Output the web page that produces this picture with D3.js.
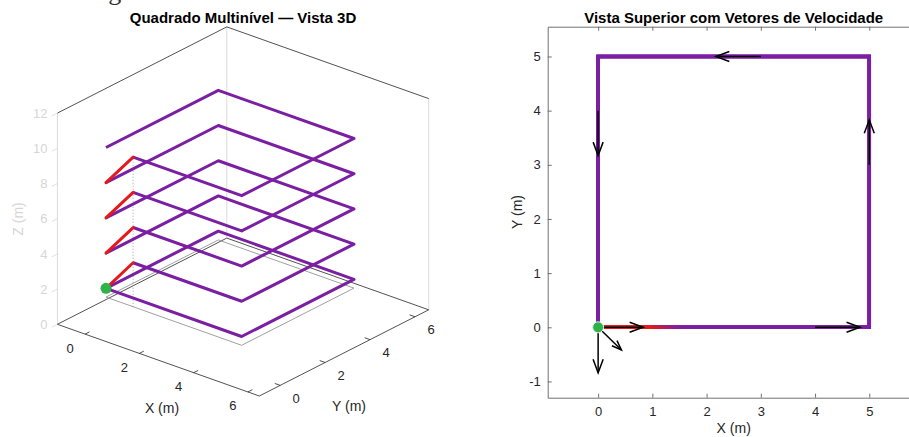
<!DOCTYPE html>
<html>
<head>
<meta charset="utf-8">
<script src="https://cdn.jsdelivr.net/npm/d3@7"></script>
<style>
  body { margin: 0; background: #fff; }
  svg { display: block; }
  text { font-family: "Liberation Sans", Arial, Helvetica, sans-serif; }
</style>
</head>
<body>
<svg id="chart" width="909" height="437"></svg>
<script>
// Route: one square circuit per floor, floors linked by short ramps
const cornerX = [0, 5, 5, 0, 0];
const cornerY = [0, 0, 5, 5, 0];
const floorLevels = [2, 4, 6, 8, 10];
const rampEndX = 1;        // each ramp climbs one floor between x=0 and x=1
const blendEndX = 1.5;     // ramp red fades into route purple by here (top view)
const groundZ = 1.5;       // footprint outline under the first floor
const shaftTopZ = 10;      // dotted guide at the ramp end
const startPoint = [0, 0, 2];

// Axis ticks
const ticks3dX = [0, 2, 4, 6];
const ticks3dY = [0, 2, 4, 6];
const ticks3dZ = [0, 2, 4, 6, 8, 10, 12];
const ticksTopX = [0, 1, 2, 3, 4, 5];
const ticksTopY = [-1, 0, 1, 2, 3, 4, 5];

// Velocity vectors shown on the top view
const velX = [0, 0, 0, 4, 5, 3, 0];
const velY = [0, 0, 0, 0, 3, 5, 4];
const velU = [0.83, 0, 0.43, 0.83, 0, -0.83, 0];
const velV = [0, -0.84, -0.42, 0, 0.83, 0, -0.83];

const PURPLE = "#7b1fa2", RED = "#e31a1c", GREEN = "#2db34a";

// ---- build the route as floor loops and ramps ----
const loops = floorLevels.map((z, i) => {
  const pts = cornerX.map((x, k) => [x, cornerY[k], z]);
  if (i > 0) pts[0] = [rampEndX, 0, z];
  return pts;
});
const ramps = floorLevels.slice(0, -1).map((z, i) => [[0, 0, z], [rampEndX, 0, floorLevels[i + 1]]]);

const svg = d3.select("#chart");

// heading line running off the top edge
svg.append("text")
  .attr("x", 20).attr("y", 0)
  .attr("textLength", 310).attr("lengthAdjust", "spacing")
  .style("font-family", "'Liberation Serif', 'Times New Roman', serif")
  .attr("font-size", 26).attr("fill", "#333")
  .text("Avance gradual de la ciudad");

// =================== 3D view ===================
const xlim3 = [-1.02, 6.42], ylim3 = [-0.93, 6.61], zlim3 = [0, 12];
const fx = d3.scaleLinear().domain(xlim3).range([0, 1]);
const fy = d3.scaleLinear().domain(ylim3).range([0, 1]);
const fz = d3.scaleLinear().domain(zlim3).range([0, 1]);
const P0 = [57.4, 324.3];               // floor corner at (xmin, ymin)
const EX = [201.9, 71.7], EY = [169.4, -86.2], EZ = [0, -211.2];
function proj(x, y, z) {
  const a = fx(x), b = fy(y), c = fz(z);
  return [P0[0] + a * EX[0] + b * EY[0] + c * EZ[0],
          P0[1] + a * EX[1] + b * EY[1] + c * EZ[1]];
}
const line3 = d3.line().x(p => proj(...p)[0]).y(p => proj(...p)[1]);

const g3 = svg.append("g");
const [x0, x1] = xlim3, [y0, y1] = ylim3, [z0, z1] = zlim3;

// light vertical box edges
[[x0, y0], [x0, y1], [x1, y1]].forEach(([x, y]) => {
  g3.append("path").attr("d", line3([[x, y, z0], [x, y, z1]]))
    .attr("stroke", "#dcdcdc").attr("stroke-width", 1).attr("fill", "none");
});
// back floor edges and top back edges
[[[x1, y1, z0], [x0, y1, z0]], [[x0, y1, z0], [x0, y0, z0]],
 [[x0, y0, z1], [x0, y1, z1]], [[x0, y1, z1], [x1, y1, z1]]].forEach(seg => {
  g3.append("path").attr("d", line3(seg))
    .attr("stroke", "#262626").attr("stroke-width", 0.8).attr("fill", "none");
});

// footprint outline
g3.append("path")
  .attr("d", line3(cornerX.map((x, k) => [x, cornerY[k], groundZ])))
  .attr("stroke", "#a0a0a0").attr("stroke-width", 1).attr("fill", "none");
// dotted guide
g3.append("path")
  .attr("d", line3([[rampEndX, 0, groundZ], [rampEndX, 0, shaftTopZ]]))
  .attr("stroke", "#8a8a8a").attr("stroke-width", 0.8)
  .attr("stroke-dasharray", "1,2").attr("fill", "none");

// route
g3.selectAll("path.loop").data(loops).join("path").attr("class", "loop")
  .attr("d", line3).attr("stroke", PURPLE).attr("stroke-width", 3)
  .attr("stroke-linejoin", "round").attr("fill", "none");
g3.selectAll("path.ramp").data(ramps).join("path").attr("class", "ramp")
  .attr("d", line3).attr("stroke", RED).attr("stroke-width", 3)
  .attr("stroke-linecap", "round").attr("fill", "none");
const s3 = proj(...startPoint);
g3.append("circle").attr("cx", s3[0]).attr("cy", s3[1]).attr("r", 5.5).attr("fill", GREEN);

// front axes
g3.append("path").attr("d", line3([[x0, y0, z0], [x1, y0, z0], [x1, y1, z0]]))
  .attr("stroke", "#262626").attr("stroke-width", 0.8).attr("fill", "none");
ticks3dX.forEach(t => {
  const a = proj(t, y0, 0), b = proj(t, y0 + 0.2, 0);
  g3.append("line").attr("x1", a[0]).attr("y1", a[1]).attr("x2", b[0]).attr("y2", b[1])
    .attr("stroke", "#262626").attr("stroke-width", 0.8);
  g3.append("text").attr("x", a[0] - 15).attr("y", a[1] + 18.5)
    .attr("text-anchor", "middle").attr("font-size", 13).attr("fill", "#262626").text(t);
});
ticks3dY.forEach(t => {
  const a = proj(x1, t, 0), b = proj(x1 - 0.2, t, 0);
  g3.append("line").attr("x1", a[0]).attr("y1", a[1]).attr("x2", b[0]).attr("y2", b[1])
    .attr("stroke", "#262626").attr("stroke-width", 0.8);
  g3.append("text").attr("x", a[0] + 16).attr("y", a[1] + 17.2)
    .attr("text-anchor", "middle").attr("font-size", 13).attr("fill", "#262626").text(t);
});
ticks3dZ.forEach(t => {
  const a = proj(x0, y0, t), b = proj(x0, y0 - 0.25, t);
  g3.append("line").attr("x1", a[0]).attr("y1", a[1]).attr("x2", b[0]).attr("y2", b[1])
    .attr("stroke", "#d8d8d8").attr("stroke-width", 0.8);
  g3.append("text").attr("x", 47.5).attr("y", a[1] + 4.6)
    .attr("text-anchor", "end").attr("font-size", 13).attr("fill", "#d6d6d6").text(t);
});
g3.append("text").attr("x", 162).attr("y", 413).attr("text-anchor", "middle")
  .attr("font-size", 14).attr("fill", "#262626").text("X (m)");
g3.append("text").attr("x", 349).attr("y", 411).attr("text-anchor", "middle")
  .attr("font-size", 14).attr("fill", "#262626").text("Y (m)");
g3.append("text").attr("transform", "translate(23,219) rotate(-90)").attr("text-anchor", "middle")
  .attr("font-size", 14).attr("fill", "#d6d6d6").text("Z (m)");
g3.append("text").attr("x", 243).attr("y", 22.5).attr("text-anchor", "middle")
  .attr("font-size", 15).attr("font-weight", "bold").attr("fill", "#000")
  .text("Quadrado Multinível — Vista 3D");

// =================== top view ===================
const xT = d3.scaleLinear().domain([-0.93, 5.93]).range([547.7, 919.7]);
const yT = d3.scaleLinear().domain([-1.3, 5.55]).range([397.7, 26.7]);
const gT = svg.append("g");
const AX = "#707070";
const fmt = d => String(d);

function styleAxis(sel) {
  sel.select(".domain").attr("stroke", AX);
  sel.selectAll(".tick line").attr("stroke", AX);
  sel.selectAll(".tick text").attr("fill", "#262626").attr("font-size", 13)
    .style("font-family", "'Liberation Sans', Arial, sans-serif");
}
gT.append("g").attr("transform", `translate(0,${yT(-1.3)})`)
  .call(d3.axisBottom(xT).tickValues(ticksTopX).tickFormat(fmt).tickSize(-4).tickSizeOuter(0).tickPadding(9))
  .call(styleAxis);
gT.append("g").attr("transform", `translate(0,${yT(5.55)})`)
  .call(d3.axisTop(xT).tickValues(ticksTopX).tickFormat("").tickSize(-4).tickSizeOuter(0))
  .call(styleAxis);
gT.append("g").attr("transform", `translate(${xT(-0.93)},0)`)
  .call(d3.axisLeft(yT).tickValues(ticksTopY).tickFormat(fmt).tickSize(-4).tickSizeOuter(0).tickPadding(7))
  .call(styleAxis);
gT.append("g").attr("transform", `translate(${xT(5.93)},0)`)
  .call(d3.axisRight(yT).tickValues(ticksTopY).tickFormat("").tickSize(-4).tickSizeOuter(0))
  .call(styleAxis);

const line2 = d3.line().x(p => xT(p[0])).y(p => yT(p[1]));
gT.selectAll("path.loop").data(loops).join("path").attr("class", "loop")
  .attr("d", line2).attr("stroke", PURPLE).attr("stroke-width", 3.5)
  .attr("stroke-linejoin", "miter").attr("fill", "none");
gT.selectAll("path.ramp").data(ramps).join("path").attr("class", "ramp")
  .attr("d", line2).attr("stroke", RED).attr("stroke-width", 3.5).attr("fill", "none");

const grad = svg.append("defs").append("linearGradient").attr("id", "rampBlend")
  .attr("gradientUnits", "userSpaceOnUse")
  .attr("x1", xT(rampEndX)).attr("x2", xT(blendEndX)).attr("y1", 0).attr("y2", 0);
grad.append("stop").attr("offset", 0).attr("stop-color", RED);
grad.append("stop").attr("offset", 1).attr("stop-color", PURPLE);
gT.append("path").attr("d", line2([[rampEndX, 0], [blendEndX, 0]]))
  .attr("stroke", "url(#rampBlend)").attr("stroke-width", 3.5).attr("fill", "none");

// velocity arrows
velX.forEach((x, i) => {
  const ax = xT(x), ay = yT(velY[i]);
  const bx = xT(x + velU[i]), by = yT(velY[i] + velV[i]);
  const L = Math.hypot(bx - ax, by - ay);
  const dx = (bx - ax) / L, dy = (by - ay) / L;
  const h = 0.3 * L, w = 0.37 * h;
  gT.append("line").attr("x1", ax).attr("y1", ay).attr("x2", bx).attr("y2", by)
    .attr("stroke", "#000").attr("stroke-width", 1.5);
  gT.append("path")
    .attr("d", `M${bx - h * dx - w * dy},${by - h * dy + w * dx}L${bx},${by}L${bx - h * dx + w * dy},${by - h * dy - w * dx}`)
    .attr("stroke", "#000").attr("stroke-width", 1.5).attr("fill", "none");
});
gT.append("circle").attr("cx", xT(startPoint[0])).attr("cy", yT(startPoint[1])).attr("r", 5.5)
  .attr("fill", GREEN).attr("stroke", "#e8f5ea").attr("stroke-width", 1);

gT.append("text").attr("x", 733.7).attr("y", 433).attr("text-anchor", "middle")
  .attr("font-size", 14).attr("fill", "#262626").text("X (m)");
gT.append("text").attr("transform", "translate(522,212) rotate(-90)").attr("text-anchor", "middle")
  .attr("font-size", 14).attr("fill", "#262626").text("Y (m)");
gT.append("text").attr("x", 733.7).attr("y", 22.5).attr("text-anchor", "middle")
  .attr("font-size", 15).attr("font-weight", "bold").attr("fill", "#000")
  .text("Vista Superior com Vetores de Velocidade");
</script>
</body>
</html>
